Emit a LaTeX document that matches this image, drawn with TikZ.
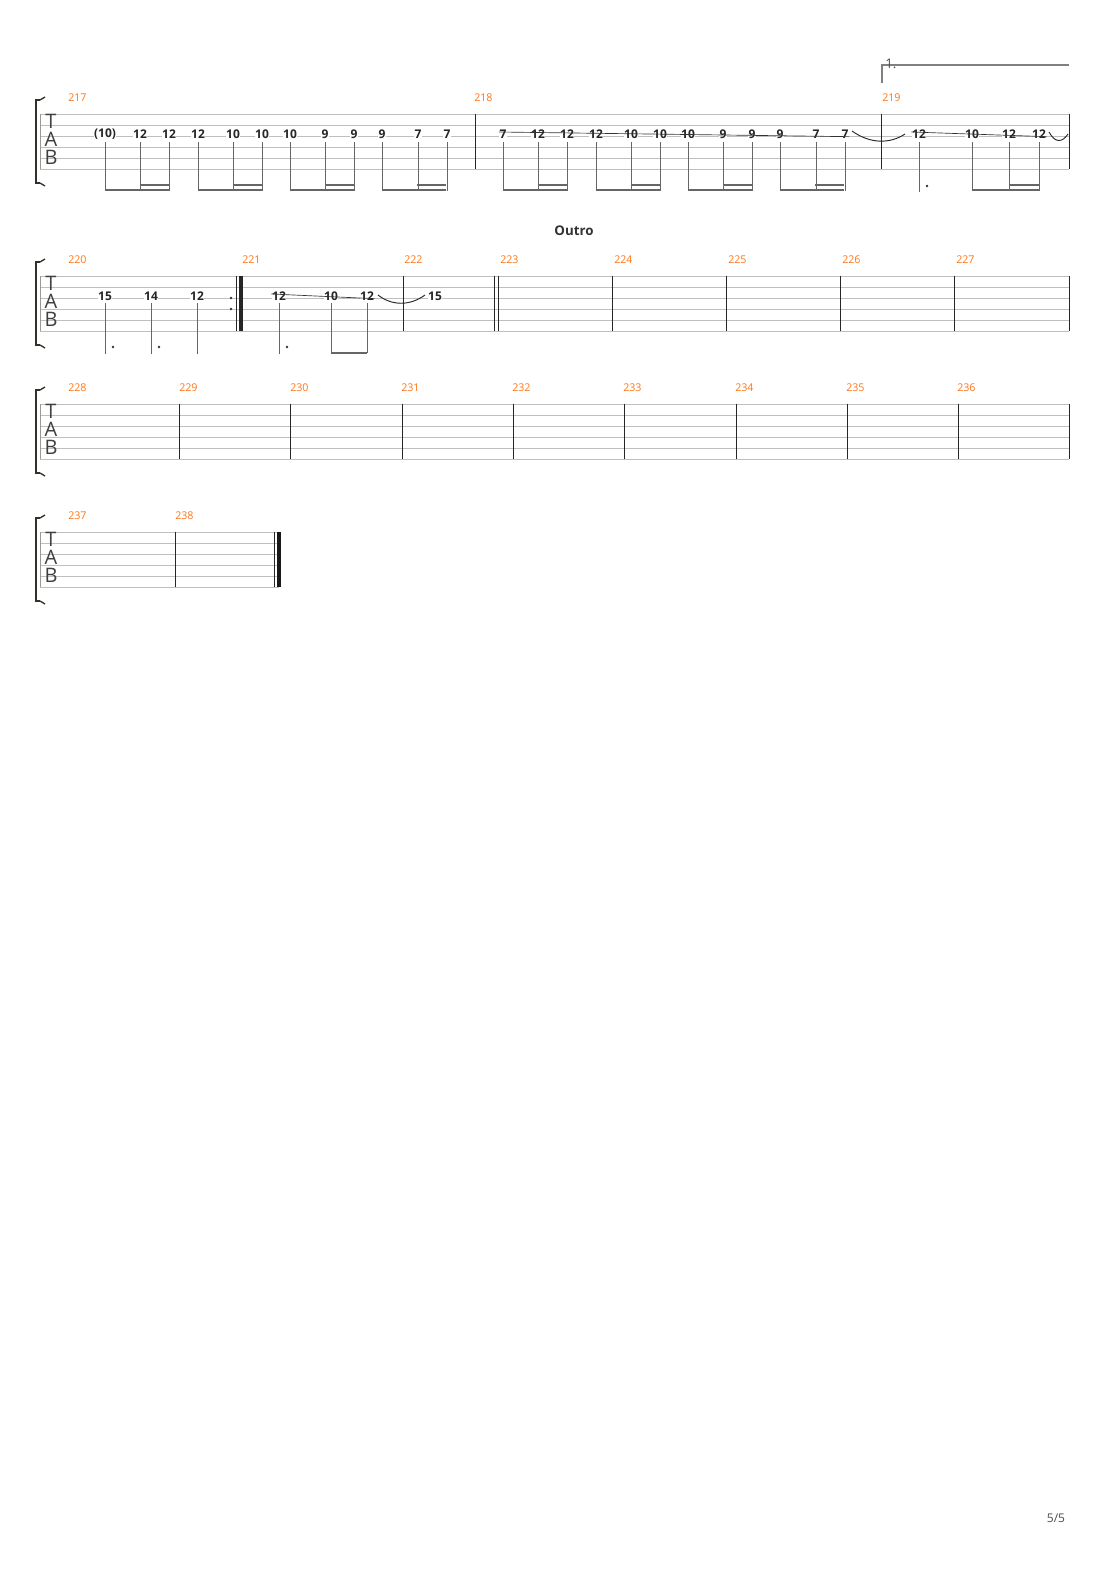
\documentclass[tikz,border=0pt]{standalone}
\usepackage{fontspec}
\setmainfont{Open Sans}
\begin{document}
\begin{tikzpicture}[x=0.75pt,y=-0.75pt,
  note/.style={fill=white,inner sep=0.4pt,font=\fontsize{9}{10}\selectfont\bfseries,text=black!85},
  mnum/.style={text=orange!80!red!90,font=\fontsize{8}{9}\selectfont,anchor=west,inner sep=0},
  stem/.style={draw=black!60,line width=0.6pt},
  beam/.style={draw=black!60,line width=1.8pt},
  sline/.style={draw=black!25,line width=0.6pt},
  bar/.style={draw=black!85,line width=0.6pt},
  slide/.style={draw=black!80,line width=0.5pt},
  tab/.style={font=\fontsize{15}{15}\selectfont,text=black!75,inner sep=0}]
\useasboundingbox (0,0) rectangle (1110,1570);
\fill[white] (0,0) rectangle (1110,1570);
% staves
\foreach \t/\e in {114/1069,276/1069,404/1069,532/279}{
  \foreach \i in {0,...,5}{\draw[sline] (40,\t+\i*11) -- (\e,\t+\i*11);}
  \draw[bar,draw=black!40] (40,\t) -- (40,\t+55);
  \draw[line width=2pt,black!85!olive] (40,\t-14) -- (36,\t-14) -- (36,\t+69) -- (40,\t+69);
  \draw[black!85!olive,line width=1pt] (40,\t-14) -- (45,\t-17) (40,\t+69) -- (45,\t+72);
  \node[tab] (T\t) at (51,\t+7) {T};
  \node[tab] (A\t) at (51,\t+25) {A};
  \node[tab] (B\t) at (51,\t+43) {B};
}
% system 1 bars
\foreach \x in {475,881,1069}{\draw[bar] (\x,114) -- (\x,169);}
\foreach \n/\x in {217/68,218/474,219/882}{\node[mnum] (m\n) at (\x,98) {\n};}
% volta
\draw[black!50,line width=0.9pt] (882,83) -- (882,65) -- (1069,65);
\node[anchor=west,inner sep=0,font=\fontsize{10}{10}\selectfont,text=black!70] (volta) at (885,64) {1.};
% ties
\draw[black!85,line width=0.7pt] (852,131) .. controls (870,144) and (890,144) .. (905,134);
\draw[black!85,line width=0.7pt] (1049,132) .. controls (1055,143) and (1062,143) .. (1068,134);
% notes m217 m218
\foreach \xx/\f in {105/(10),140/12,169/12,198/12,233/10,262/10,290/10,325/9,354/9,382/9,418/7,447/7,
  503/7,538/12,567/12,596/12,631/10,660/10,688/10,723/9,752/9,780/9,816/7,845/7}{
  \draw[stem] (\xx,142) -- (\xx,191);
  \node[note] (a\xx) at (\xx,134) {\f};
}
\foreach \s in {105,198,290,382,503,596,688,780}{
  \draw[beam] (\s,190) -- (\s+64,190);
  \draw[beam] (\s+35,185) -- (\s+64,185);
}
% m219
\draw[stem] (919,142) -- (919,192);
\fill[black!80] (927,186) circle (1.3);
\foreach \xx/\f in {919/12,972/10,1009/12,1039/12}{
  \node[note] (c\xx) at (\xx,134) {\f};}
\foreach \xx in {972,1009,1039}{\draw[stem] (\xx,142) -- (\xx,191);}
\draw[beam] (972,190) -- (1039,190);
\draw[beam] (1009,185) -- (1039,185);
% slide lines system1
\draw[slide] ([yshift=1.5pt]a503.west) -- ([yshift=-2pt]a845.east);
\draw[slide] ([yshift=1.5pt]c919.west) -- ([yshift=-2pt]c1039.east);

% system 2
\node[font=\fontsize{10}{10}\selectfont\bfseries,text=black!80] (outro) at (574,231) {Outro};
\foreach \n/\x in {220/68,221/242,222/404,223/500,224/614,225/728,226/842,227/956}{\node[mnum] (m\n) at (\x,260) {\n};}
\fill[black!80] (231,298) circle (1.4) (231,309) circle (1.4);
\draw[bar] (236,276) -- (236,331);
\draw[black!85,line width=3pt] (240.5,276) -- (240.5,331);
\foreach \x in {403,494,498,612,726,840,954,1069}{\draw[bar] (\x,276) -- (\x,331);}
\draw[black!85,line width=0.7pt] (378,295) .. controls (392,306) and (410,306) .. (425,295);
\foreach \xx/\f/\d in {105/15/1,151/14/1,197/12/0,279/12/1}{
  \draw[stem] (\xx,303) -- (\xx,354);
  \ifnum\d=1 \fill[black!80] (\xx+8,347) circle (1.3);\fi
  \node[note] (d\xx) at (\xx,296) {\f};}
\foreach \xx/\f in {331/10,367/12}{
  \draw[stem] (\xx,303) -- (\xx,353);
  \node[note] (e\xx) at (\xx,296) {\f};}
\draw[beam] (331,353) -- (367,353);
\node[note] (f435) at (435,296) {15};
\draw[slide] ([yshift=1.5pt]d279.west) -- ([yshift=-2pt]e367.east);

% system 3
\foreach \x in {179,290,402,513,624,736,847,958,1069}{\draw[bar] (\x,404) -- (\x,459);}
\foreach \n/\x in {228/68,229/179,230/290,231/401,232/512,233/623,234/735,235/846,236/957}{\node[mnum] (m\n) at (\x,388) {\n};}
% system 4
\draw[bar] (175,532) -- (175,587);
\draw[bar] (274,532) -- (274,587);
\draw[black!90,line width=3pt] (279,532) -- (279,587);
\foreach \n/\x in {237/68,238/175}{\node[mnum] (m\n) at (\x,516) {\n};}
% page number
\node[font=\fontsize{9}{9}\selectfont,text=black!70] (page) at (1056,1518) {5/5};
\end{tikzpicture}
\end{document}
